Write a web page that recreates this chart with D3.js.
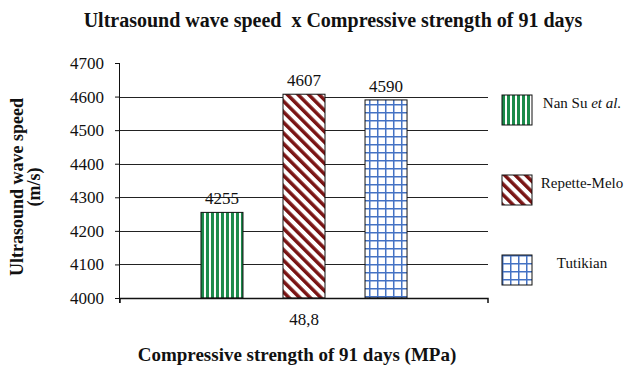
<!DOCTYPE html>
<meta charset="utf-8">
<script src="https://d3js.org/d3.v7.min.js"></script>
<style>
  body { margin: 0; background: #fff; }
  svg text { font-family: "Liberation Serif", "Times New Roman", serif !important; fill: #111; }
</style>
<div id="chart"></div>
<script>
  // data
  const categories = ["48,8"];
  const seriesNames = ["Nan Su", "Repette-Melo", "Tutikian"];
  const speeds = [4255, 4607, 4590];
  const yTicks = [4000, 4100, 4200, 4300, 4400, 4500, 4600, 4700];
  const patternIds = ["pGreen", "pRed", "pBlue"];

  const W = 626, H = 365;
  const plot = { left: 120, right: 488, top: 63, bottom: 298 };
  const serif = "'Liberation Serif', 'Times New Roman', serif";

  const svg = d3.select("#chart").append("svg")
    .attr("width", W).attr("height", H)
    .attr("font-family", serif);

  // fill patterns
  const defs = svg.append("defs");
  const pg = defs.append("pattern").attr("id", "pGreen")
    .attr("patternUnits", "userSpaceOnUse").attr("width", 5).attr("height", 5);
  pg.append("rect").attr("width", 5).attr("height", 5).attr("fill", "#fff");
  pg.append("rect").attr("width", 3).attr("height", 5).attr("fill", "#1b8a4a");

  const pr = defs.append("pattern").attr("id", "pRed")
    .attr("patternUnits", "userSpaceOnUse").attr("width", 7.5).attr("height", 7.5)
    .attr("patternTransform", "rotate(-45)");
  pr.append("rect").attr("width", 7.5).attr("height", 7.5).attr("fill", "#fff");
  pr.append("rect").attr("width", 3.5).attr("height", 7.5).attr("fill", "#7a1414");

  const pb = defs.append("pattern").attr("id", "pBlue")
    .attr("patternUnits", "userSpaceOnUse").attr("width", 8).attr("height", 8);
  pb.append("rect").attr("width", 8).attr("height", 8).attr("fill", "#fff");
  pb.append("line").attr("x1", 0.75).attr("x2", 0.75).attr("y1", 0).attr("y2", 8)
    .attr("stroke", "#4472c4").attr("stroke-width", 1.5);
  pb.append("line").attr("y1", 0.75).attr("y2", 0.75).attr("x1", 0).attr("x2", 8)
    .attr("stroke", "#4472c4").attr("stroke-width", 1.5);

  // scales
  const y = d3.scaleLinear().domain([4000, 4700]).range([plot.bottom, plot.top]);
  const x0 = d3.scaleBand().domain(categories).range([plot.left, plot.right])
    .paddingInner(0).paddingOuter(0.393);
  const x1 = d3.scaleBand().domain(seriesNames).range([0, x0.bandwidth()])
    .paddingInner(0.488).paddingOuter(0);

  // gridlines
  svg.append("g").selectAll("line")
    .data(yTicks.filter(t => t > 4000 && t < 4700))
    .join("line")
    .attr("x1", plot.left).attr("x2", plot.right)
    .attr("y1", d => Math.round(y(d)) + 0.5).attr("y2", d => Math.round(y(d)) + 0.5)
    .attr("stroke", "#222").attr("stroke-width", 1);

  // bars
  const group = svg.append("g").attr("transform", `translate(${x0(categories[0])},0)`);
  group.selectAll("rect")
    .data(speeds)
    .join("rect")
    .attr("x", (d, i) => x1(seriesNames[i]))
    .attr("y", d => y(d))
    .attr("width", x1.bandwidth())
    .attr("height", d => y(4000) - y(d))
    .attr("fill", (d, i) => `url(#${patternIds[i]})`)
    .attr("stroke", "#111").attr("stroke-width", 1);

  group.selectAll("text.val")
    .data(speeds)
    .join("text")
    .attr("class", "val")
    .attr("x", (d, i) => x1(seriesNames[i]) + x1.bandwidth() / 2)
    .attr("y", d => y(d) - 8)
    .attr("text-anchor", "middle")
    .attr("font-family", serif)
    .style("font-size", "17px")
    .text(d => d);

  // y axis
  const yAxis = svg.append("g")
    .attr("transform", `translate(${plot.left},0)`)
    .call(d3.axisLeft(y).tickValues(yTicks).tickSize(5).tickPadding(11).tickFormat(d3.format("d")));
  yAxis.attr("font-family", serif);
  yAxis.select(".domain").attr("d", `M-0.5,${plot.top}V${plot.bottom + 5}`).attr("stroke", "#111");
  yAxis.selectAll(".tick line").attr("stroke", "#111");
  yAxis.selectAll(".tick text").style("font-size", "17px").attr("fill", "#222");

  // x axis
  const xAxis = svg.append("g")
    .attr("transform", `translate(0,${plot.bottom})`)
    .call(d3.axisBottom(x0).tickSize(0).tickPadding(15));
  xAxis.attr("font-family", serif);
  xAxis.select(".domain").attr("d", `M${plot.left},5V0.5H${plot.right}V5`).attr("stroke", "#111").attr("stroke-width", 1.5);
  xAxis.selectAll(".tick text").style("font-size", "17px").attr("fill", "#222");

  // titles
  svg.append("text")
    .attr("x", 333).attr("y", 27)
    .attr("text-anchor", "middle")
    .style("font-size", "20px").style("font-weight", "bold")
    .text("Ultrasound wave speed\u00a0 x Compressive strength of 91 days");

  svg.append("text")
    .attr("x", 297).attr("y", 361)
    .attr("text-anchor", "middle")
    .style("font-size", "19px").style("font-weight", "bold")
    .text("Compressive strength of 91 days (MPa)");

  const yTitle = svg.append("text")
    .attr("transform", "translate(23,187) rotate(-90)")
    .attr("text-anchor", "middle")
    .style("font-size", "18px").style("font-weight", "bold");
  yTitle.append("tspan").attr("x", 0).attr("y", 0).text("Ultrasound wave speed");
  yTitle.append("tspan").attr("x", 0).attr("y", 17).text("(m/s)");

  // legend
  const legend = svg.append("g").attr("transform", "translate(502,95)");
  const item = legend.selectAll("g")
    .data(seriesNames)
    .join("g")
    .attr("transform", (d, i) => `translate(0,${i * 80})`);
  item.append("rect")
    .attr("width", 30).attr("height", 30)
    .attr("fill", (d, i) => `url(#${patternIds[i]})`)
    .attr("stroke", "#111").attr("stroke-width", 1);
  const lt = item.append("text")
    .attr("x", 80).attr("y", 13)
    .attr("text-anchor", "middle")
    .style("font-size", "15px");
  lt.append("tspan").text(d => d);
  lt.filter((d, i) => i === 0).append("tspan")
    .style("font-style", "italic").text(" et al.");
</script>
